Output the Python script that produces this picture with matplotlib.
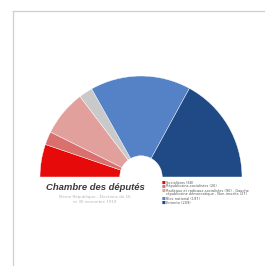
import matplotlib
matplotlib.use("Agg")
import matplotlib.pyplot as plt
from matplotlib.lines import Line2D

parties = ["Socialistes (SFIO)", "Républicains-socialistes", "Radicaux et radicaux-socialistes",
           "Non-inscrits", "Gauche républicaine démocratique", "Entente républicaine démocratique"]
seats = [64, 26, 90, 27, 197, 209]
colors = ["#e60a0a", "#d9706e", "#e2a09c", "#c9c9c9", "#5582c6", "#1f4a85"]
legend_labels = ["Socialistes (68)", "Républicains-socialistes (26)",
                 "Radicaux et radicaux-socialistes (90) - Gauche",
                 "républicaine démocratique - Non-inscrits (27)",
                 "Bloc national (197)", "Entente (209)"]

W, H = 265, 266
fig = plt.figure(figsize=(W/100, H/100), dpi=100)
fig.patch.set_facecolor("white")

cx, cy, r = 141, 177, 101
ax = fig.add_axes([(cx - r)/W, (H - cy)/H, 2*r/W, r/H])
total = sum(seats)
ax.pie(seats + [total], colors=colors + ["none"], startangle=180, counterclock=False,
       radius=1, wedgeprops=dict(width=0.79, edgecolor="white", linewidth=0.3))
ax.patches[-1].set_visible(False)
ax.set_xlim(-1, 1)
ax.set_ylim(0, 1)
ax.set_aspect("auto")
ax.axis("off")

# frame lines
fig.add_artist(Line2D([13/W, 13/W], [0, 1 - 11/H], color="#cfcfcf", lw=0.9))
fig.add_artist(Line2D([13/W, 1], [1 - 11/H, 1 - 11/H], color="#cfcfcf", lw=0.9))

# title
fig.text(95/W, 1 - 188/H, "Chambre des députés", ha="center", va="center",
         fontsize=6.8, style="italic", weight="bold", family="Liberation Sans", color="#3a3a3a")
fig.text(95/W, 1 - 197/H, "IIIème République - Élections du 16", ha="center", va="center",
         fontsize=2.9, color="#b5b5b5")
fig.text(95/W, 1 - 202/H, "et 30 novembre 1919", ha="center", va="center",
         fontsize=2.9, color="#b5b5b5")

# legend
ys = [182.5, 186.5, 190.5, 194.5, 199, 203]
bullet_colors = [colors[0], colors[1], colors[2], None, colors[4], colors[5]]
for y, lab, bc in zip(ys, legend_labels, bullet_colors):
    if bc is not None:
        fig.text(162/W, 1 - y/H, "■", ha="left", va="center", fontsize=2.8, color=bc)
    fig.text(166/W, 1 - y/H, lab, ha="left", va="center", fontsize=2.5, color="#555555")

fig.savefig("out.png", dpi=100, facecolor="white")
